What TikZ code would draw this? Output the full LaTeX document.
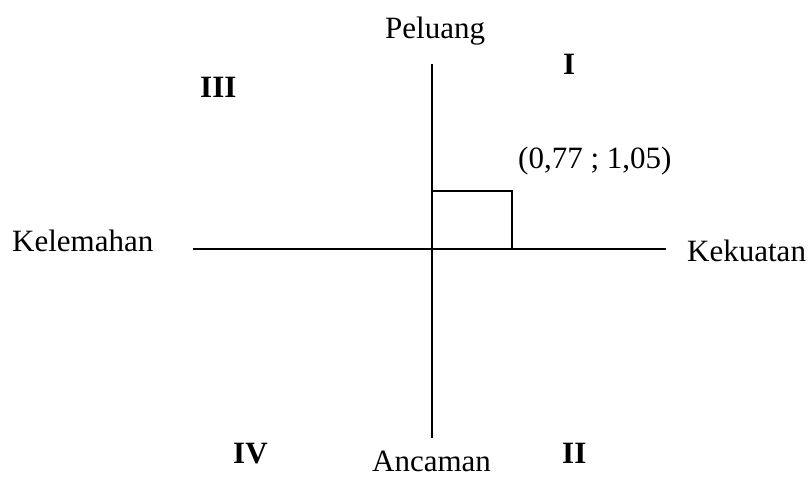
\documentclass[tikz,border=0pt]{standalone}
\usepackage{fontspec}
\setmainfont{Liberation Serif}
\begin{document}
\begin{tikzpicture}[x=1pt,y=-1pt,
  lbl/.style={inner sep=0pt,anchor=base west,font=\fontsize{31}{37}\selectfont},
  quad/.style={lbl,font=\fontsize{31}{37}\selectfont\bfseries},
  axis/.style={line width=2pt,black}]
\useasboundingbox (0,0) rectangle (811,479);
\coordinate (top) at (431.5,64);
\coordinate (bot) at (431.5,438);
\coordinate (left) at (193,248.5);
\coordinate (right) at (666,248.5);
\coordinate (o) at (431.5,248.5);
\coordinate (p) at (511.5,191);
\draw[axis] (top) -- (bot);
\draw[axis] (left) -- (right);
\draw[axis] (o) rectangle (p);
\node[lbl] (peluang) at (385,38) {Peluang};
\node[lbl] (kelemahan) at (12,251) {Kelemahan};
\node[lbl] (kekuatan) at (687,261) {Kekuatan};
\node[lbl] (ancaman) at (372,471) {Ancaman};
\node[lbl] (coord) at (518,168) {(0,77 ; 1,05)};
\node[quad] (q1) at (563,74) {I};
\node[quad] (q3) at (200,97) {III};
\node[quad] (q4) at (233,463) {IV};
\node[quad] (q2) at (562,463) {II};
\end{tikzpicture}
\end{document}
